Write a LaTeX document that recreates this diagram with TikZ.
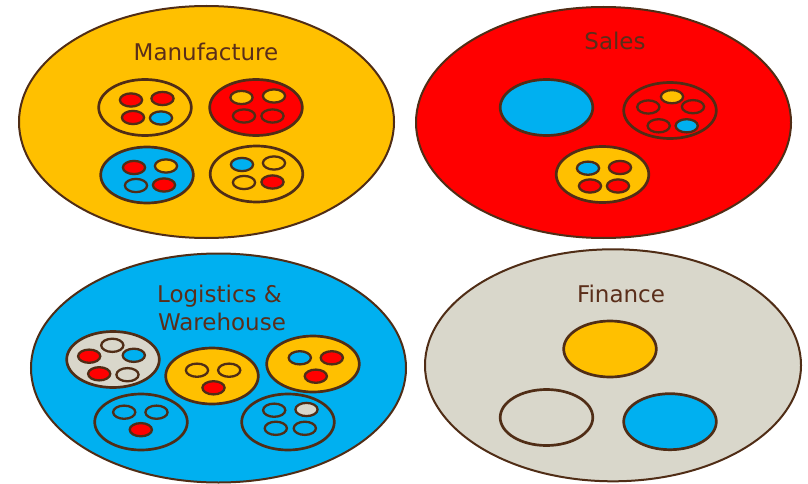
\documentclass[tikz,border=0pt]{standalone}
\usepackage{fontspec}
\setmainfont{DejaVu Sans}

\definecolor{brn}{HTML}{502D16}
\definecolor{txt}{HTML}{5A2E1A}
\definecolor{org}{HTML}{FFC000}
\definecolor{rd}{HTML}{FF0000}
\definecolor{blu}{HTML}{00B0F0}
\definecolor{gry}{HTML}{D9D7CB}

\tikzset{
  area/.style = {draw = brn, line width = 2pt},
  grp/.style = {draw = brn, line width = 2.7pt, x radius = 46.3pt,
  y radius = 28pt},
  dot/.style = {draw = brn, line width = 2.3pt, x radius = 11.1pt,
  y radius = 6.6pt},
  lbl/.style = {text = txt, font = \fontsize{23}{28}\selectfont,
  anchor = base, inner sep = 0pt}
}

\begin{document}
\begin{tikzpicture}[x = 1pt, y = -1pt]
  \useasboundingbox (0, 0) rectangle (808, 484);

  \draw[area, fill = org] (206.5, 122) ellipse [x radius = 187.5pt,
  y radius = 116pt];
  \draw[area, fill = rd] (603.5, 122.5) ellipse [x radius = 187.5pt,
  y radius = 115.5pt];
  \draw[area, fill = blu] (218.5, 368) ellipse [x radius = 187.5pt,
  y radius = 114.5pt];
  \draw[area, fill = gry] (613, 365.3) ellipse [x radius = 188pt,
  y radius = 116pt];

  \node[lbl] (manuf) at (206, 60.7) {Manufacture};
  \node[lbl] (sales) at (615, 50) {Sales};
  \node[lbl] (logis) at (219.5, 302.3) {Logistics \&};
  \node[lbl] (wareh) at (222, 330.7) {Warehouse};
  \node[lbl] (fin) at (621, 302.3) {Finance};

  \foreach \x/\y/\c in {145/107.5/org, 256/107.5/rd, 147/175/blu,
    256.5/174/org, 546.5/107.5/blu, 670/110.5/rd, 602.5/174.5/org,
    113/359.5/gry, 212/376/org, 313/364/org, 141/422/blu, 288/422/blu,
    610/349/org, 546.5/417.5/gry, 670/421.7/blu}
    \draw[grp, fill = \c] (\x, \y) ellipse;

  \foreach \x/\y/\c in {131/100/rd, 162.5/98.5/rd, 133/117.5/rd,
    161/118/blu, 241.5/97.5/org, 274/96/org, 244/116/rd, 272.5/116/rd,
    134/167.5/rd, 166/166/org, 136/185.5/blu, 164/185/rd, 242/164.5/blu,
    274/163/org, 244/182.5/org, 272.5/182/rd,
    672/96.7/org, 648.3/107/rd, 693/106.7/rd, 658.7/125.8/rd,
    686.7/125.8/blu, 588/168.2/blu, 620/167.5/rd, 590/186/rd, 618/186/rd,
    112.3/345.3/gry, 89.2/356.2/rd, 133.8/355.3/blu, 99.2/373.8/rd,
    127.5/374.7/gry, 197/370.2/org, 229.2/370.2/org, 213.5/387.8/rd,
    299.8/357.8/blu, 331.8/357.8/rd, 315.8/376.2/rd, 124.2/412.2/blu,
    156.5/412.2/blu, 140.8/429.7/rd, 274.2/410.2/blu, 306.5/409.5/gry,
    275.8/428.3/blu, 304.8/428.3/blu}
    \draw[dot, fill = \c] (\x, \y) ellipse;
\end{tikzpicture}
\end{document}
